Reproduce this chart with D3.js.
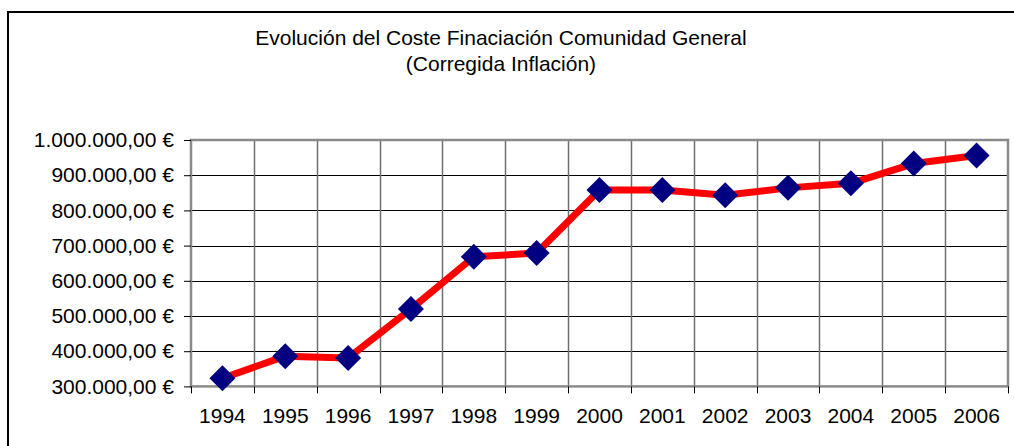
<!DOCTYPE html>
<html>
<head>
<meta charset="utf-8">
<script src="https://cdn.jsdelivr.net/npm/d3@7"></script>
<style>
  body { margin: 0; background: #fff; }
  svg { display: block; font-family: Arial, "Liberation Sans", sans-serif; }
</style>
</head>
<body>
<svg></svg>
<script>
var WIDTH = 1014;
var HEIGHT = 446;

var years = ['1994', '1995', '1996', '1997', '1998', '1999', '2000',
             '2001', '2002', '2003', '2004', '2005', '2006'];
var coste = [323000, 386000, 381000, 520000, 668000, 679000, 858000,
             858000, 843000, 864000, 877000, 933000, 956000];
var yTicks = [300000, 400000, 500000, 600000, 700000, 800000, 900000, 1000000];
var titleLines = ['Evolución del Coste Finaciación Comunidad General', '(Corregida Inflación)'];

var margin = { left: 191, right: 6, top: 140, bottom: 60 };
var plotW = WIDTH - margin.left - margin.right;
var plotH = HEIGHT - margin.top - margin.bottom + 0.4;
var FS = 21;

var svg = d3.select('svg')
    .attr('width', WIDTH)
    .attr('height', HEIGHT);

// outer chart border
svg.append('rect')
    .attr('x', 8).attr('y', 12)
    .attr('width', WIDTH + 10).attr('height', HEIGHT + 10)
    .attr('fill', 'none')
    .attr('stroke', '#000')
    .attr('stroke-width', 2);

svg.selectAll('text.title')
    .data(titleLines)
    .enter()
    .append('text')
    .attr('class', 'title')
    .attr('x', 501)
    .attr('y', function(d, i){ return 45 + i * 26; })
    .attr('text-anchor', 'middle')
    .attr('font-size', FS)
    .attr('fill', '#000')
    .text(function(d){ return d; });

var xScale = d3.scaleBand().domain(years).range([0, plotW]);
var yScale = d3.scaleLinear().domain([300000, 1000000]).range([plotH, 0]);

var g = svg.append('g')
    .attr('transform', 'translate(' + margin.left + ',' + margin.top + ')');

// horizontal gridlines
g.selectAll('line.hgrid')
    .data(yTicks)
    .enter()
    .append('line')
    .attr('class', 'hgrid')
    .attr('x1', 0).attr('x2', plotW)
    .attr('y1', function(d){ return Math.round(yScale(d)) + 0.5; })
    .attr('y2', function(d){ return Math.round(yScale(d)) + 0.5; })
    .attr('stroke', '#000')
    .attr('stroke-width', 1);

// vertical gridlines at category boundaries
g.selectAll('line.vgrid')
    .data(years.slice(1))
    .enter()
    .append('line')
    .attr('class', 'vgrid')
    .attr('x1', function(d){ return Math.round(xScale(d)) + 0.5; })
    .attr('x2', function(d){ return Math.round(xScale(d)) + 0.5; })
    .attr('y1', 0).attr('y2', plotH)
    .attr('stroke', '#6e6e6e')
    .attr('stroke-width', 1.5);

// plot area border
g.append('rect')
    .attr('x', 0).attr('y', 0)
    .attr('width', plotW).attr('height', plotH)
    .attr('fill', 'none')
    .attr('stroke', '#8a8a8a')
    .attr('stroke-width', 2.5);

// y axis
var leftAxis = d3.axisLeft(yScale)
    .tickValues(yTicks)
    .tickSize(7)
    .tickPadding(10)
    .tickFormat(function(d){
        return d3.format(',.2f')(d).replace(/,/g, 'X').replace('.', ',').replace(/X/g, '.') + ' €';
    });
var ya = g.append('g').call(leftAxis);
ya.select('.domain').remove();
ya.selectAll('.tick line').attr('stroke', '#000');
ya.selectAll('.tick text')
    .attr('font-size', FS)
    .attr('font-family', 'Arial, "Liberation Sans", sans-serif')
    .attr('fill', '#000');

// x axis: ticks at category boundaries, labels centred
var boundaries = years.map(function(d){ return xScale(d); }).concat([plotW]);
g.selectAll('line.xtick')
    .data(boundaries)
    .enter()
    .append('line')
    .attr('class', 'xtick')
    .attr('x1', function(d){ return Math.round(d) + 0.5; })
    .attr('x2', function(d){ return Math.round(d) + 0.5; })
    .attr('y1', plotH).attr('y2', plotH + 7)
    .attr('stroke', '#000');

g.selectAll('text.xlabel')
    .data(years)
    .enter()
    .append('text')
    .attr('class', 'xlabel')
    .attr('x', function(d){ return xScale(d) + xScale.bandwidth() / 2; })
    .attr('y', plotH + 37)
    .attr('text-anchor', 'middle')
    .attr('font-size', FS)
    .attr('fill', '#000')
    .text(function(d){ return d; });

// series line
var line = d3.line()
    .x(function(d, i){ return xScale(years[i]) + xScale.bandwidth() / 2; })
    .y(function(d){ return yScale(d); });

g.append('path')
    .datum(coste)
    .attr('d', line)
    .attr('fill', 'none')
    .attr('stroke', '#ff0000')
    .attr('stroke-width', 7)
    .attr('stroke-linejoin', 'round');

// diamond markers
g.selectAll('path.marker')
    .data(coste)
    .enter()
    .append('path')
    .attr('class', 'marker')
    .attr('transform', function(d, i){
        return 'translate(' + (xScale(years[i]) + xScale.bandwidth() / 2) + ',' + yScale(d) + ')';
    })
    .attr('d', 'M0,-13L13,0L0,13L-13,0Z')
    .attr('fill', '#000080');
</script>
</body>
</html>
